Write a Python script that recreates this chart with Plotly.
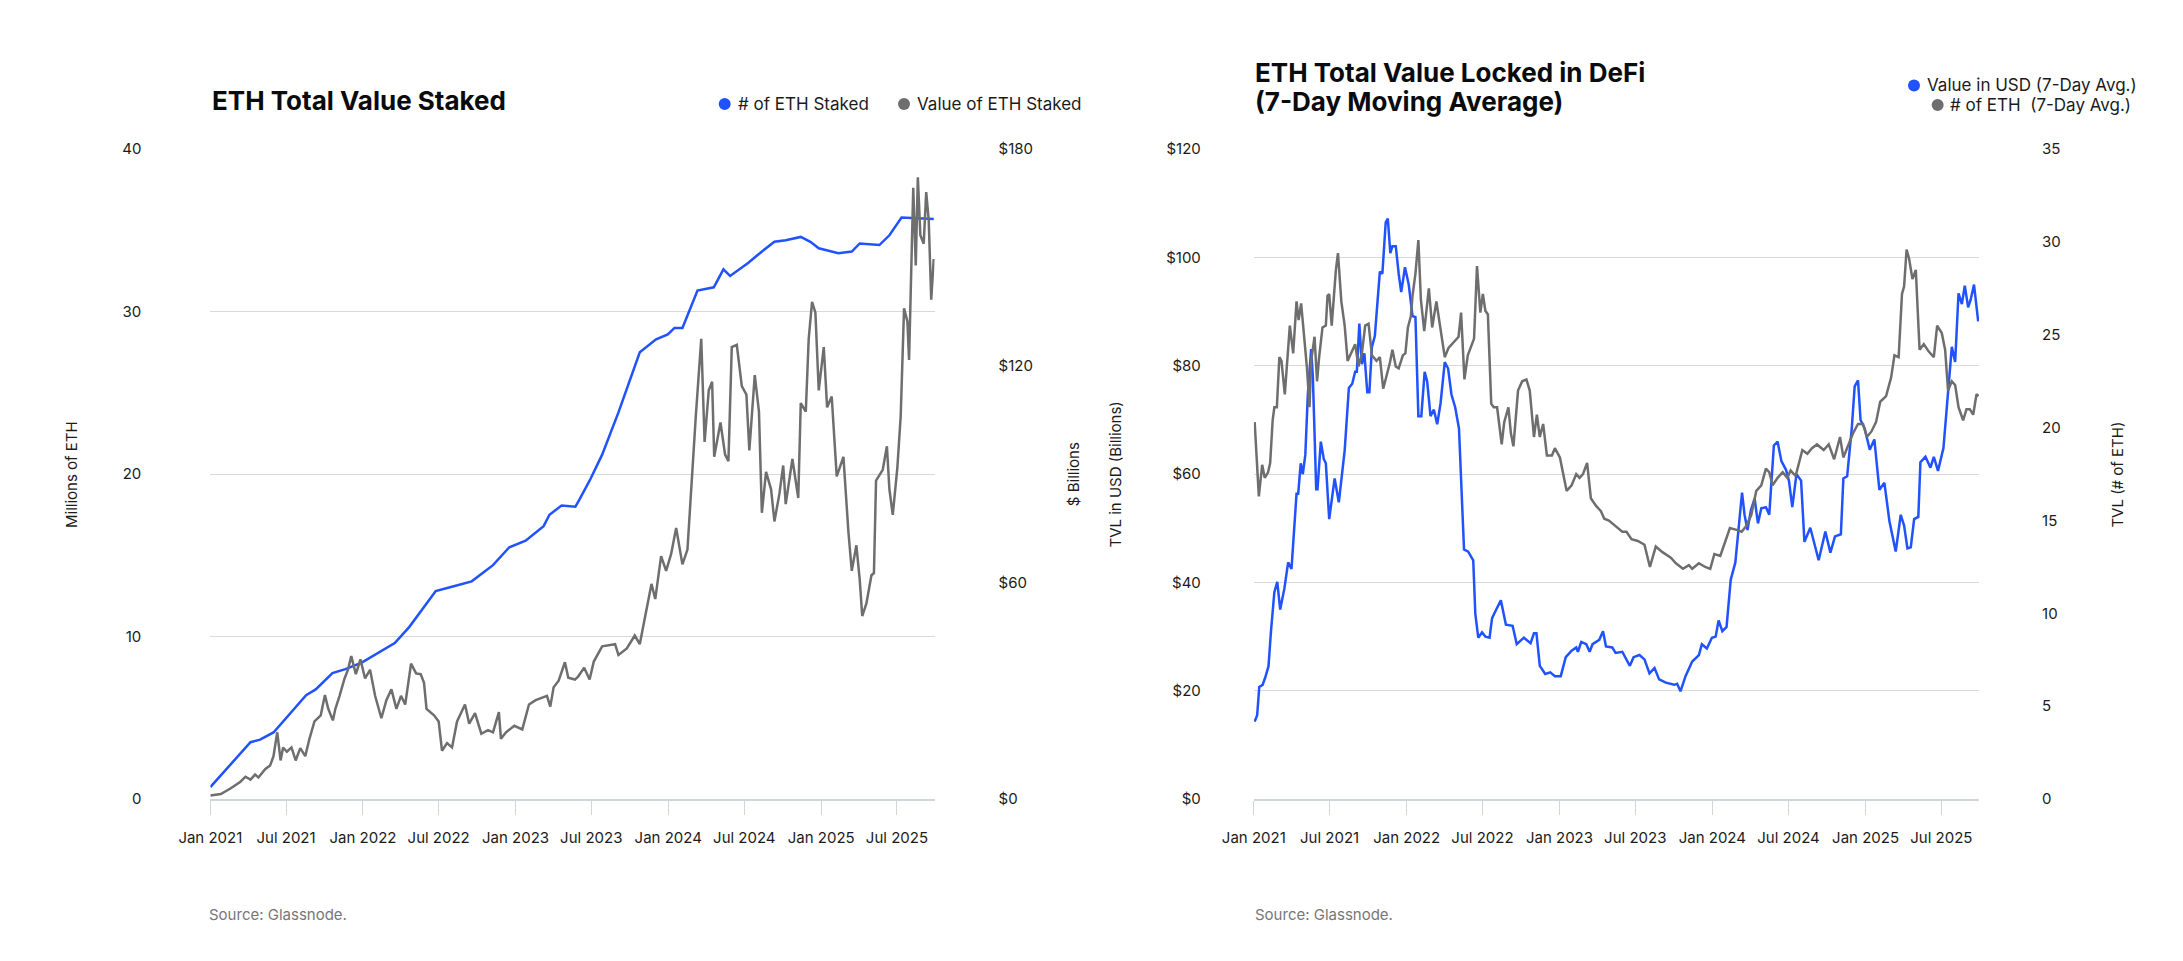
import pandas as pd
import plotly.graph_objects as go

# all x values are day offsets from 2021-01-01
START = pd.Timestamp("2021-01-01")

# --- ETH Total Value Staked ---
staked_days = [0, 96, 119, 151, 229, 252, 292, 323, 362, 394, 441, 476, 539, 582, 625, 656, 676, 715, 754, 797,
               811, 840, 873, 882, 909, 937, 976, 1027, 1047, 1066, 1094, 1110, 1129, 1165, 1204, 1227, 1243, 1286,
               1314, 1349, 1376, 1412, 1435, 1455, 1502, 1534, 1553, 1600, 1624, 1653, 1730]
staked_eth_m = [0.74, 3.5, 3.66, 4.1, 6.4, 6.75, 7.76, 8.0, 8.4, 8.9, 9.6, 10.6, 12.8, 13.1, 13.4, 14.0, 14.4, 15.5,
                15.9, 16.8, 17.5, 18.07, 18.0, 18.4, 19.7, 21.2, 23.8, 27.5, 27.9, 28.3, 28.6, 29.0, 29.0, 31.3, 31.5,
                32.6, 32.2, 33.0, 33.6, 34.3, 34.4, 34.6, 34.3, 33.9, 33.6, 33.7, 34.2, 34.1, 34.7, 35.8, 35.7]

value_days = [0, 25, 49, 72, 84, 96, 107, 115, 131, 143, 151, 160, 168, 174, 183, 194, 204, 215, 227, 237,
              249, 264, 274, 282, 293, 299, 309, 321, 329, 337, 348, 359, 370, 382, 394, 409, 421, 433, 445, 456,
              466, 480, 492, 503, 511, 517, 535, 546, 554, 566, 578, 590, 609, 619, 633, 648, 664, 676, 690, 695,
              707, 727, 746, 762, 778, 793, 805, 813, 821, 833, 848, 856, 872, 880,
              894, 907, 917, 937, 968, 976, 996, 1015, 1027, 1039, 1055, 1064, 1078, 1090, 1102, 1114, 1129, 1141,
              1149, 1161, 1174, 1182, 1192, 1200, 1205, 1220, 1231, 1239, 1247, 1259, 1271, 1282, 1289, 1302, 1312,
              1319, 1329, 1341, 1349, 1361, 1370, 1376, 1392, 1406, 1412, 1424, 1431, 1439, 1447, 1455, 1467, 1475,
              1486, 1498, 1514, 1526, 1534, 1545, 1553, 1559, 1569, 1581, 1587, 1592, 1608, 1618, 1624, 1632, 1643,
              1651, 1659, 1667, 1671, 1681, 1687, 1692, 1698, 1706, 1712, 1718, 1724, 1730]
value_usd_b = [1.0, 1.4, 3.0, 4.8, 6.2, 5.4, 6.8, 6.0, 8.3, 9.3, 11.9, 18.5, 10.7, 14.3, 13.1, 14.3, 10.7, 14.1,
               11.9, 16.7, 21.5, 23.2, 28.8, 25.0, 21.8, 25.0, 28.6, 33.4, 35.8, 39.6, 34.6, 38.7, 33.4, 35.8, 28.6,
               22.4, 27.4, 30.4, 25.0, 28.6, 26.2, 37.5, 34.8, 34.6, 32.2, 25.0, 23.2, 21.5, 13.4, 15.5, 14.3, 21.5,
               26.2, 20.9, 23.8, 18.1, 19.1, 18.5, 24.1, 16.7, 18.5, 20.3, 19.3, 26.2, 27.4, 28.0, 28.6, 25.6, 31.0,
               32.8, 37.9, 33.6, 33.1, 34.0,
               36.4, 33.1, 38.1, 42.3, 42.9, 39.9, 41.7, 45.3, 42.9, 50.1, 59.6, 55.4, 67.3, 63.2, 67.9, 75.1, 65.0,
               69.1, 84.6, 106.1, 127.5, 98.9, 113.2, 115.6, 94.8, 104.3, 95.4, 93.6, 125.2, 125.8, 114.4, 112.0,
               96.6, 117.4, 107.3, 79.3, 90.6, 85.8, 76.9, 84.6, 92.4, 81.7, 94.2, 83.4, 109.7, 107.3, 127.5, 137.7,
               134.7, 113.2, 125.2, 108.5, 111.5, 89.4, 94.8, 73.9, 63.2, 70.3, 60.8, 50.7, 54.2, 62.0, 62.6, 88.2,
               91.2, 97.7, 85.8, 78.7, 91.8, 106.1, 135.9, 132.3, 121.6, 169.3, 147.8, 172.2, 156.2, 153.8, 168.1,
               160.3, 138.3, 149.6]

# --- ETH TVL in DeFi (7-day avg) ---
tvl_usd_days = [2, 8, 13, 21, 27, 35, 41, 49, 56, 63, 73, 82, 90, 102, 106, 112, 117, 123, 129, 137,
                141, 149, 152, 160, 167, 172, 180, 193, 203, 217, 227, 235, 242, 246, 252, 258, 264, 271, 276, 282,
                289, 301, 307, 315, 320, 326, 331, 339, 346, 352, 361, 370, 379, 386, 393, 400, 408, 414, 422, 430,
                438, 446, 456, 464, 472, 481, 490, 497, 502, 512, 524, 529, 536, 545, 553, 563, 569, 579, 590, 602,
                618, 628, 645, 661, 669, 675, 683, 696, 708, 719, 733, 745, 759, 770, 774, 782, 794, 802, 809, 825,
                834, 841, 856, 864, 880,
                898, 907, 921, 933, 945, 957, 968, 984, 1004, 1011, 1019, 1031, 1047, 1063, 1070, 1082, 1094, 1103,
                1110, 1119, 1129, 1139, 1150, 1158, 1166, 1172, 1179, 1187, 1196, 1204, 1212, 1223, 1231, 1242, 1251,
                1260, 1271, 1278, 1286, 1296, 1307, 1315, 1329, 1337, 1349, 1365, 1377, 1388, 1402, 1408, 1417, 1428,
                1435, 1443, 1449, 1459, 1471, 1482, 1494, 1506, 1518, 1533, 1545, 1553, 1561, 1569, 1577, 1587, 1592,
                1604, 1616, 1624, 1634, 1647, 1659, 1667, 1675, 1683, 1691, 1698, 1706, 1712, 1720, 1730]
tvl_usd_b = [14.3, 15.5, 20.7, 21.1, 22.4, 24.5, 31.0, 38.2, 40.1, 35.0, 38.9, 43.7, 42.5, 56.4, 56.4, 62.0, 60.0,
             63.6, 74.7, 83.1, 77.9, 57.2, 57.2, 66.0, 62.8, 62.0, 51.7, 59.2, 54.8, 64.4, 75.9, 76.7, 78.9, 78.9,
             87.8, 80.3, 82.3, 75.1, 75.1, 83.5, 85.5, 97.4, 97.0, 106.5, 107.2, 100.8, 102.1, 102.1, 97.0, 93.6,
             98.2, 95.0, 89.2, 89.0, 70.7, 70.7, 78.9, 77.1, 70.7, 71.9, 69.2, 73.1, 80.7, 79.5, 74.7, 72.3, 68.4,
             54.8, 46.1, 45.7, 44.1, 34.2, 29.8, 30.8, 30.0, 29.8, 33.4, 35.0, 36.7, 32.2, 32.0, 28.6, 29.8, 28.8,
             30.6, 30.6, 24.6, 23.1, 23.4, 22.7, 22.7, 26.2, 27.4, 28.0, 27.2, 29.0, 28.6, 27.2, 28.6, 29.4, 31.0,
             28.2, 28.0, 27.0, 27.2,
             24.6, 26.2, 26.6, 25.8, 23.2, 24.2, 22.1, 21.5, 21.1, 21.3, 19.9, 22.7, 25.4, 26.6, 28.6, 27.8, 29.8,
             30.0, 33.0, 31.0, 31.8, 40.5, 43.7, 50.9, 56.6, 52.5, 49.7, 53.3, 55.5, 50.9, 53.7, 53.9, 52.5, 65.3,
             66.0, 62.4, 60.8, 58.8, 53.9, 60.0, 58.8, 47.5, 50.1, 47.7, 44.1, 49.4, 45.5, 48.5, 48.9, 59.2, 59.6,
             68.4, 76.2, 77.3, 70.0, 68.4, 64.5, 66.4, 57.1, 58.4, 51.3, 45.7, 52.5, 50.5, 46.3, 46.5, 51.7, 52.1,
             62.2, 63.2, 61.2, 63.2, 60.6, 64.8, 75.5, 83.5, 80.7, 93.4, 91.4, 94.8, 90.8, 92.2, 95.0, 88.2]

tvl_eth_days = [2, 12, 20, 26, 34, 39, 45, 49, 55, 61, 66, 74, 86, 94, 102, 107, 113, 120, 127, 133,
                137, 145, 151, 156, 164, 172, 176, 180, 186, 196, 201, 209, 217, 224, 235, 242, 250, 258, 266, 274,
                282, 293, 301, 309, 317, 325, 331, 339, 346, 356, 362, 368, 375, 379, 386, 393, 399, 407, 418, 426,
                436, 446, 456, 465, 477, 489, 495, 503, 511, 520, 526, 533, 541, 547, 553, 559, 567, 573, 581, 592,
                598, 608, 614, 620, 631, 641, 651, 659, 669, 676, 683, 691, 700, 712, 719, 731, 739, 747, 759, 770,
                778, 786, 796, 805, 817, 829, 837, 848, 864, 880,
                890, 902, 917, 933, 946, 960, 976, 996, 1008, 1025, 1039, 1047, 1063, 1078, 1090, 1100, 1114, 1125,
                1137, 1153, 1165, 1176, 1188, 1200, 1212, 1223, 1231, 1239, 1251, 1263, 1274, 1282, 1294, 1310, 1322,
                1333, 1345, 1361, 1373, 1386, 1400, 1408, 1420, 1431, 1443, 1455, 1464, 1475, 1486, 1496, 1510, 1522,
                1530, 1540, 1548, 1553, 1559, 1565, 1573, 1581, 1590, 1600, 1612, 1624, 1632, 1643, 1651, 1658, 1667,
                1675, 1683, 1694, 1702, 1710, 1718, 1726, 1731]
tvl_eth_m = [20.3, 16.3, 18.0, 17.3, 17.6, 18.1, 20.4, 21.1, 21.1, 23.8, 23.6, 21.8, 25.5, 24.0, 26.8, 25.8, 26.7,
             25.0, 23.2, 21.1, 23.6, 24.9, 22.5, 23.8, 25.4, 25.5, 27.1, 27.2, 25.5, 28.5, 29.4, 26.8, 25.5, 23.6,
             24.1, 24.5, 23.3, 24.0, 25.5, 25.6, 23.9, 23.6, 23.8, 22.1, 22.8, 23.5, 24.2, 23.3, 23.2, 23.9, 24.0,
             25.4, 26.0, 27.1, 28.3, 30.1, 26.9, 25.2, 27.5, 25.4, 26.8, 25.4, 23.8, 24.3, 24.6, 24.9, 26.2, 22.6,
             23.9, 24.5, 24.8, 28.7, 26.2, 27.2, 26.3, 26.1, 21.3, 21.1, 21.1, 19.1, 20.3, 21.1, 19.7, 19.0, 22.0,
             22.5, 22.6, 22.0, 19.5, 20.7, 19.5, 20.2, 18.5, 18.5, 18.9, 18.4, 17.4, 16.6, 16.9, 17.5, 17.3, 17.5,
             18.1, 16.2, 15.8, 15.5, 15.1, 15.0, 14.7, 14.4,
             14.4, 14.0, 13.9, 13.7, 12.5, 13.6, 13.3, 13.0, 12.7, 12.4, 12.6, 12.4, 12.7, 12.5, 12.4, 13.2, 13.1,
             13.8, 14.6, 14.5, 14.4, 14.7, 15.3, 16.6, 16.9, 17.8, 17.6, 16.9, 17.3, 17.6, 17.3, 17.7, 17.4, 18.8,
             18.6, 18.9, 19.1, 18.8, 19.1, 18.3, 19.5, 18.4, 19.1, 19.7, 20.2, 20.2, 19.5, 19.8, 20.3, 21.4, 21.7,
             22.7, 23.9, 23.8, 27.2, 27.6, 29.6, 29.1, 28.0, 28.5, 24.2, 24.5, 24.1, 23.8, 25.5, 25.1, 24.2, 22.0,
             22.5, 22.3, 21.1, 20.4, 21.0, 21.0, 20.7, 21.8, 21.7]

# tick labels
staked_usd_ticks = [0, 60, 120, 180]
staked_usd_labels = ["$0", "$60", "$120", "$180"]

BLUE = "#2052ff"
GRAY = "#6e6e6e"
GRID = "#d6dadd"
TEXT = "#1b1b1b"
FONT = "Inter"
W, H = 2183, 961


def to_dates(days):
    return START + pd.to_timedelta(days, unit="D")


def px(x):
    return x / W


def py(y):
    return 1 - y / H


fig = go.Figure()

fig.add_trace(go.Scatter(x=to_dates(value_days), y=value_usd_b, name="Value of ETH Staked",
                         mode="lines", line=dict(color=GRAY, width=2.5), xaxis="x", yaxis="y2"))
fig.add_trace(go.Scatter(x=to_dates(staked_days), y=staked_eth_m, name="# of ETH Staked",
                         mode="lines", line=dict(color=BLUE, width=2.5), xaxis="x", yaxis="y"))
fig.add_trace(go.Scatter(x=to_dates(tvl_eth_days), y=tvl_eth_m, name="# of ETH (7-Day Avg.)",
                         mode="lines", line=dict(color=GRAY, width=2.5), xaxis="x2", yaxis="y4"))
fig.add_trace(go.Scatter(x=to_dates(tvl_usd_days), y=tvl_usd_b, name="Value in USD (7-Day Avg.)",
                         mode="lines", line=dict(color=BLUE, width=2.5), xaxis="x2", yaxis="y3"))

ydom = [py(805), py(142)]
xrange_ = ["2021-01-01", "2025-09-29"]

xaxis_style = dict(type="date", range=xrange_, tick0="2021-01-01", dtick="M6", tickformat="%b %Y",
                   ticks="outside", ticklen=14, tickcolor="#cfd5d8", tickwidth=1,
                   showgrid=False, showline=True, linecolor="#cfd5d8", linewidth=2,
                   zeroline=False, ticklabelstandoff=10,
                   tickfont=dict(family=FONT, size=15, color=TEXT))
tick_font = dict(family=FONT, size=15, color=TEXT)

fig.update_layout(
    width=W, height=H, margin=dict(l=0, r=0, t=0, b=0),
    paper_bgcolor="white", plot_bgcolor="white", showlegend=False,
    xaxis=dict(domain=[px(181), px(916)], anchor="y", **xaxis_style),
    yaxis=dict(domain=ydom, anchor="x", range=[0, 40], dtick=10, showgrid=True, gridcolor=GRID,
               zeroline=False, showline=False, ticks="", ticklabelstandoff=68, tickfont=tick_font),
    yaxis2=dict(overlaying="y", side="right", anchor="x", range=[0, 180], tickmode="array",
                tickvals=staked_usd_ticks, ticktext=staked_usd_labels, showgrid=False, zeroline=False,
                showline=False, ticks="", ticklabelstandoff=63, tickfont=tick_font),
    xaxis2=dict(domain=[px(1240), px(1976)], anchor="y3", **xaxis_style),
    yaxis3=dict(domain=ydom, anchor="x2", range=[0, 120], dtick=20, tickprefix="$", showgrid=True,
                gridcolor=GRID, zeroline=False, showline=False, ticks="", ticklabelstandoff=52,
                tickfont=tick_font),
    yaxis4=dict(overlaying="y3", side="right", anchor="x2", range=[0, 35], dtick=5, showgrid=False,
                zeroline=False, showline=False, ticks="", ticklabelstandoff=62, tickfont=tick_font),
)

# titles, axis titles, legends, sources
title_font = dict(family=FONT, size=26, color="#0a0b0d")
ann = []
ann.append(dict(text="<b>ETH Total Value Staked</b>", x=px(181), y=py(92), xanchor="left", yanchor="middle",
                font=title_font))
ann.append(dict(text="<b>ETH Total Value Locked in DeFi</b>", x=px(1239), y=py(64), xanchor="left",
                yanchor="middle", font=title_font))
ann.append(dict(text="<b>(7-Day Moving Average)</b>", x=px(1239), y=py(93), xanchor="left",
                yanchor="middle", font=title_font))

for label, xpos in [("Millions of ETH", 40), ("$ Billions", 1057), ("TVL in USD (Billions)", 1100),
                    ("TVL (# of ETH)", 2117)]:
    ann.append(dict(text=label, x=px(xpos), y=py(474), textangle=-90, xanchor="center", yanchor="middle",
                    font=dict(family=FONT, size=15, color=TEXT)))

legend_items = [("# of ETH Staked", BLUE, 703, 96), ("Value of ETH Staked", GRAY, 885, 96),
                ("Value in USD (7-Day Avg.)", BLUE, 1910, 77), ("# of ETH\u00a0 (7-Day Avg.)", GRAY, 1934, 97)]
shapes = []
for label, color, xdot, ydot in legend_items:
    shapes.append(dict(type="circle", xref="paper", yref="paper", xsizemode="pixel", ysizemode="pixel",
                       xanchor=px(xdot), yanchor=py(ydot), x0=-6, x1=6, y0=-6, y1=6,
                       fillcolor=color, line=dict(width=0)))
    ann.append(dict(text=label, x=px(xdot + 11), y=py(ydot), xanchor="left", yanchor="middle",
                    font=dict(family=FONT, size=17, color=TEXT)))

for xpos in [178, 1239]:
    ann.append(dict(text="Source: Glassnode.", x=px(xpos), y=py(923), xanchor="left", yanchor="middle",
                    font=dict(family=FONT, size=15, color="#777777")))

for a in ann:
    a.update(xref="paper", yref="paper", showarrow=False)

fig.update_layout(annotations=ann, shapes=shapes)

fig.write_html("out.html", config={"displayModeBar": False},
               post_script="document.body.style.margin='0px';")
